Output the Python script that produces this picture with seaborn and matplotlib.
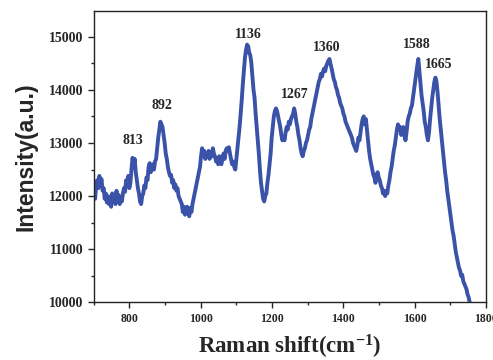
import numpy as np
import pandas as pd
import seaborn as sns
import matplotlib
matplotlib.use("Agg")
import matplotlib.pyplot as plt
from matplotlib.ticker import MultipleLocator

# Raman shift (cm-1) and intensity
shift = [700, 704, 707, 710, 713, 716, 719, 722, 725, 728, 731, 734, 737, 740, 743, 746, 749, 752, 755, 758,
         761, 764, 767, 770, 773, 776, 779, 782, 785, 788, 791, 794, 797, 800, 803, 806, 809, 812, 815, 818,
         821, 824, 827, 830, 833, 836, 839, 842, 845, 848, 851, 854, 857, 860, 863, 866, 869, 872, 875, 878,
         881, 884, 887, 890, 893, 896, 899, 902, 905, 908, 911, 914, 917, 920, 923, 926, 929, 932, 935, 938,
         941, 944, 947, 950, 953, 956, 959, 962, 965, 968, 971, 974, 977, 980, 983, 986, 989, 992, 995, 998,
         1001, 1004, 1007, 1010, 1013, 1016, 1019, 1022, 1025, 1028, 1031, 1034, 1037, 1040, 1043, 1046, 1049,
         1052, 1055, 1058, 1061, 1064, 1067, 1070, 1073, 1076, 1079, 1082, 1085, 1088, 1091, 1094, 1097, 1100,
         1103, 1106, 1109, 1112, 1115, 1118, 1121, 1124, 1127, 1130, 1133, 1136, 1139, 1142, 1145, 1148, 1151,
         1154, 1157, 1160, 1163, 1166, 1169, 1172, 1175, 1178, 1181, 1184, 1187, 1190, 1193, 1196, 1199, 1202,
         1205, 1208, 1211, 1214, 1217, 1220, 1223, 1226, 1229, 1232, 1235, 1238, 1241, 1244, 1247, 1250, 1253,
         1256, 1259, 1262, 1265, 1268, 1271, 1274, 1277, 1280, 1283, 1286, 1289, 1292, 1295, 1298, 1301, 1304,
         1307, 1310, 1313, 1316, 1319, 1322, 1325, 1328, 1331, 1334, 1337, 1340, 1343, 1346, 1349, 1352, 1355,
         1358, 1361, 1364, 1367, 1370, 1373, 1376, 1379, 1382, 1385, 1388, 1391, 1394, 1397, 1400, 1403, 1406,
         1409, 1412, 1415, 1418, 1421, 1424, 1427, 1430, 1433, 1436, 1439, 1442, 1445, 1448, 1451, 1454, 1457,
         1460, 1463, 1466, 1469, 1472, 1475, 1478, 1481, 1484, 1487, 1490, 1493, 1496, 1499, 1502, 1505, 1508,
         1511, 1514, 1517, 1520, 1523, 1526, 1529, 1532, 1535, 1538, 1541, 1544, 1547, 1550, 1553, 1556, 1559,
         1562, 1565, 1568, 1571, 1574, 1577, 1580, 1583, 1586, 1589, 1592, 1595, 1598, 1601, 1604, 1607, 1610,
         1613, 1616, 1619, 1622, 1625, 1628, 1631, 1634, 1637, 1640, 1643, 1646, 1649, 1652, 1655, 1658, 1661,
         1664, 1667, 1670, 1673, 1676, 1679, 1682, 1685, 1688, 1691, 1694, 1697, 1700, 1703, 1706, 1709, 1712,
         1715, 1718, 1721, 1724, 1727, 1730, 1733, 1736, 1739, 1742, 1745, 1748, 1751, 1754, 1757, 1760]

intensity = [12050, 11950, 12200, 12300, 12150, 12380, 12250, 12320, 12100, 12150, 11950, 12050, 11880, 12000,
             11850, 11980, 11800, 12050, 11900, 12000, 11850, 12100, 11920, 12020, 11850, 11980, 11900, 12050,
             12150, 12080, 12300, 12200, 12380, 12150, 12250, 12500, 12720, 12600, 12700, 12450, 12300, 12150,
             12050, 11900, 11850, 12000, 12050, 12200, 12150, 12350, 12300, 12550, 12620, 12450, 12500, 12600,
             12500, 12650, 12700, 12900, 13100, 13250, 13400, 13350, 13300, 13150, 13000, 12800, 12700, 12550,
             12450, 12380, 12400, 12250, 12300, 12150, 12220, 12100, 12150, 12000, 11950, 11900, 11850, 11700,
             11800, 11650, 11750, 11800, 11700, 11620, 11780, 11700, 11850, 11950, 12050, 12150, 12250, 12350,
             12450, 12550, 12750, 12900, 12800, 12850, 12700, 12800, 12750, 12850, 12700, 12820, 12750, 12900,
             12800, 12750, 12650, 12700, 12600, 12750, 12650, 12600, 12700, 12800, 12700, 12850, 12900, 12850,
             12920, 12800, 12700, 12600, 12650, 12550, 12500, 12700, 12900, 13100, 13300, 13550, 13800, 14100,
             14350, 14600, 14750, 14850, 14820, 14700, 14650, 14500, 14250, 14000, 13850, 13550, 13300, 13050,
             12800, 12500, 12250, 12100, 11950, 11900, 12000, 12050, 12250, 12400, 12600, 12800, 13100, 13300,
             13500, 13600, 13650, 13600, 13500, 13400, 13300, 13150, 13050, 13100, 13050, 13200, 13300, 13250,
             13400, 13350, 13450, 13500, 13550, 13650, 13550, 13400, 13300, 13150, 13050, 12900, 12800, 12750,
             12850, 12900, 13000, 13050, 13150, 13250, 13300, 13450, 13550, 13650, 13750, 13850, 13950, 14050,
             14150, 14200, 14300, 14250, 14350, 14400, 14350, 14450, 14500, 14550, 14580, 14480, 14400, 14300,
             14200, 14150, 14050, 14000, 13900, 13850, 13750, 13700, 13650, 13550, 13500, 13400, 13350, 13300,
             13250, 13200, 13150, 13100, 13000, 12950, 12900, 12850, 12950, 13100, 13050, 13200, 13350, 13450,
             13500, 13350, 13450, 13250, 13050, 12850, 12700, 12600, 12500, 12400, 12350, 12250, 12400, 12450,
             12350, 12300, 12200, 12150, 12050, 12100, 12000, 12100, 12050, 12200, 12300, 12450, 12550, 12700,
             12850, 12950, 13100, 13250, 13350, 13250, 13300, 13150, 13250, 13300, 13150, 13050, 13200, 13400,
             13500, 13550, 13650, 13700, 13850, 14000, 14150, 14300, 14450, 14580, 14350, 14100, 13900, 13750,
             13600, 13400, 13300, 13150, 13050, 13200, 13450, 13650, 13850, 14000, 14150, 14230, 14150, 13950,
             13700, 13450, 13250, 13050, 12850, 12650, 12450, 12300, 12100, 11950, 11800, 11650, 11500, 11350,
             11250, 11100, 10950, 10850, 10750, 10650, 10600, 10500, 10520, 10400, 10350, 10300, 10250, 10150,
             10100, 10000, 9900, 9800]

# peak annotations
peak_labels = ["813", "892", "1136", "1267", "1360", "1588", "1665"]
peak_x = [810, 892, 1133, 1264, 1353, 1607, 1666]
peak_y = [13040, 13700, 15050, 13920, 14800, 14860, 14480]

df = pd.DataFrame({"shift": shift, "intensity": intensity})

sns.set_style("ticks")
plt.rcParams["font.family"] = ["Liberation Serif", "DejaVu Serif"]
plt.rcParams["mathtext.fontset"] = "custom"
plt.rcParams["mathtext.rm"] = "Liberation Serif:bold"
plt.rcParams["mathtext.it"] = "Liberation Serif:bold"

fig = plt.figure(figsize=(4.93, 3.6), dpi=100)
ax = fig.add_axes([0.19, 0.16, 0.796, 0.809])

sns.lineplot(data=df, x="shift", y="intensity", ax=ax, color="#3a53a9", linewidth=2.8, sort=False)

ax.set_xlim(700, 1800)
ax.set_ylim(10000, 15480)
ax.xaxis.set_major_locator(MultipleLocator(200))
ax.xaxis.set_minor_locator(MultipleLocator(100))
ax.yaxis.set_major_locator(MultipleLocator(1000))
ax.yaxis.set_minor_locator(MultipleLocator(500))
ax.tick_params(which="major", length=4, width=1, direction="out", top=False, right=False)
ax.tick_params(which="minor", length=2.5, width=1, direction="out", top=False, right=False)
for lab in ax.get_xticklabels():
    lab.set_fontsize(8.5)
    lab.set_fontweight("bold")
for lab in ax.get_yticklabels():
    lab.set_fontsize(10)
    lab.set_fontweight("bold")
for sp in ax.spines.values():
    sp.set_linewidth(1)
    sp.set_color("#222222")

for t, x, y in zip(peak_labels, peak_x, peak_y):
    ax.text(x, y, t, ha="center", va="center", fontsize=10, fontweight="bold")

ax.set_xlabel("Raman shift(cm$^{-1}$)", fontsize=16.5, fontweight="bold", labelpad=6)
ax.set_ylabel("Intensity(a.u.)", fontsize=16.5, fontweight="bold",
              family=["Liberation Sans", "DejaVu Sans"])
ax.yaxis.set_label_coords(-0.142, 0.5)

fig.savefig("out.png", dpi=100)
